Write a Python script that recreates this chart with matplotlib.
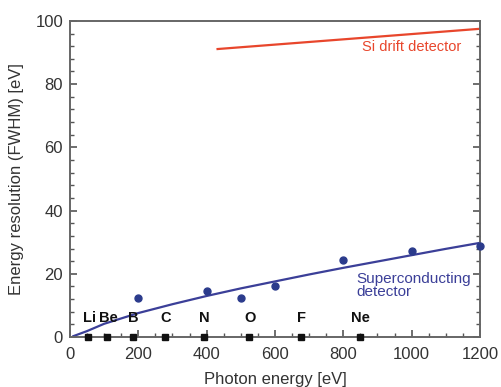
import matplotlib
matplotlib.use("Agg")
import matplotlib.pyplot as plt
from matplotlib.ticker import MultipleLocator

plt.rcParams["font.family"] = ["Liberation Sans", "DejaVu Sans"]

# measured superconducting detector points
sc_energy = [200, 400, 500, 600, 800, 1000, 1200]
sc_fwhm = [12.3, 14.6, 12.3, 16.2, 24.4, 27.3, 28.9]

# fitted curve through them
fit_energy = [10, 50, 100, 200, 300, 400, 500, 600, 700, 800, 900, 1000, 1100, 1200]
fit_fwhm = [0.3, 1.9, 4.2, 7.6, 10.4, 13.0, 15.4, 17.6, 19.8, 21.9, 23.9, 25.9, 27.9, 29.8]

# Si drift detector line
sdd_energy = [432, 1200]
sdd_fwhm = [91.1, 97.5]

# K-edge markers of light elements
elements = ["Li", "Be", "B", "C", "N", "O", "F", "Ne"]
element_energy = [54, 109, 183, 277, 392, 525, 677, 849]

blue = "#3b3f98"
red = "#e8462c"
ink = "#333333"

fig = plt.figure(figsize=(5.01, 3.87), dpi=100)
ax = fig.add_axes([0.1397, 0.129, 0.8183, 0.817])

ax.plot(fit_energy, fit_fwhm, color=blue, lw=1.6)
ax.plot(sc_energy, sc_fwhm, "o", color="#2b3b8c", ms=5, clip_on=False, zorder=5)
ax.plot(sdd_energy, sdd_fwhm, color=red, lw=1.6)
ax.plot(element_energy, [0] * len(element_energy), "s", color="#111111",
        ms=4, clip_on=False, zorder=6)

for name, e in zip(elements, element_energy):
    ax.text(e + 2, 3.8, name, ha="center", va="bottom", fontsize=10.5,
            fontweight="bold", color="#111111")

ax.text(1145, 91.6, "Si drift detector", color=red, fontsize=10.5,
        ha="right", va="center")
ax.text(838, 16.3, "Superconducting\ndetector", color=blue, fontsize=11,
        ha="left", va="center", linespacing=0.95)

ax.set_xlim(0, 1200)
ax.set_ylim(0, 100)
ax.xaxis.set_major_locator(MultipleLocator(200))
ax.xaxis.set_minor_locator(MultipleLocator(50))
ax.yaxis.set_major_locator(MultipleLocator(20))
ax.yaxis.set_minor_locator(MultipleLocator(4))
ax.tick_params(which="both", direction="in", right=True, top=False,
               colors="#555555", labelcolor=ink, labelsize=12, pad=5)
ax.tick_params(axis="x", which="major", pad=7)
ax.tick_params(which="major", length=5, width=1.2)
ax.tick_params(which="minor", length=3, width=1)
for s in ax.spines.values():
    s.set_color("#666666")
    s.set_linewidth(1.4)

ax.set_xlabel("Photon energy [eV]", fontsize=12, color=ink, labelpad=7)
ax.set_ylabel("Energy resolution (FWHM) [eV]", fontsize=12, color=ink, labelpad=8)

fig.savefig("out.png", dpi=100)
